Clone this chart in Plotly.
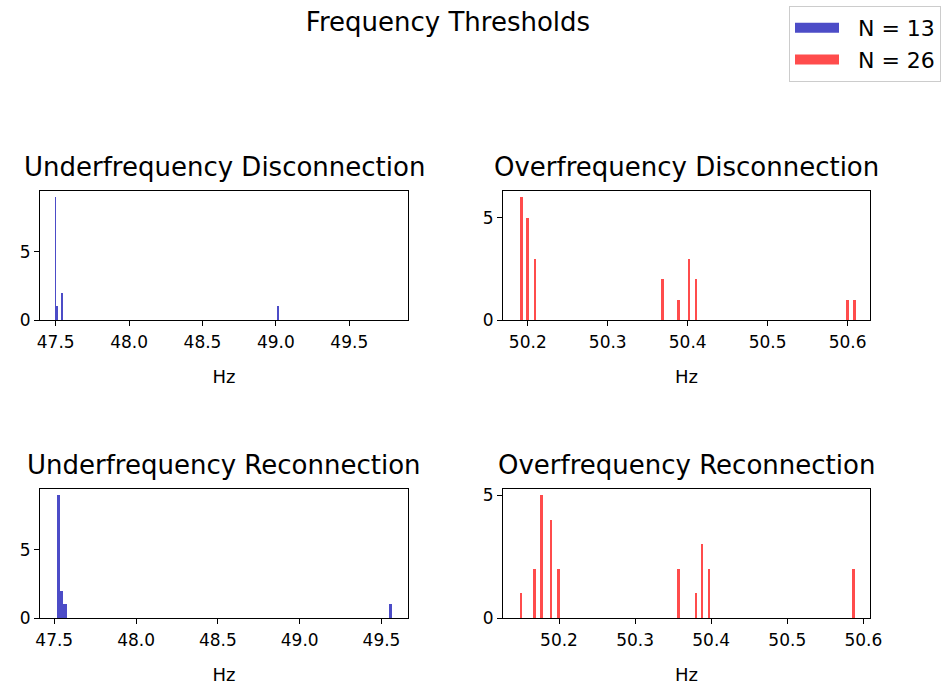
import plotly.graph_objects as go
from plotly.subplots import make_subplots

# ---- data (bin centres in Hz, counts) ----
ufd_hz = [47.500, 47.509, 47.543, 49.015]
ufd_n = [9, 1, 2, 1]

ofd_hz = [50.1916, 50.200, 50.209, 50.369, 50.389, 50.4016, 50.4104, 50.600, 50.609]
ofd_n = [6, 5, 3, 2, 1, 3, 2, 1, 1]

ufr_hz = [47.525, 47.546, 47.566, 49.555]
ufr_n = [9, 2, 1, 1]

ofr_hz = [50.150, 50.168, 50.177, 50.1895, 50.199, 50.357, 50.380, 50.388, 50.397, 50.587]
ofr_n = [1, 2, 5, 4, 2, 2, 1, 3, 2, 2]

titles = ["Underfrequency Disconnection", "Overfrequency Disconnection",
          "Underfrequency Reconnection", "Overfrequency Reconnection"]
legend_names = ["N = 13", "N = 26"]
main_title = "Frequency Thresholds"
x_label = "Hz"

BLUE = "rgba(0,0,175,0.7)"
RED = "rgba(255,0,0,0.7)"
FONT = "DejaVu Sans"
W, H = 941, 686

fig = make_subplots(rows=2, cols=2)

panels = [
    (ufd_hz, ufd_n, BLUE, 0.0085, 1, 1),
    (ofd_hz, ofd_n, RED, 0.0036, 1, 2),
    (ufr_hz, ufr_n, BLUE, 0.0205, 2, 1),
    (ofr_hz, ofr_n, RED, 0.0037, 2, 2),
]
for xs, ys, col, w, r, c in panels:
    fig.add_trace(go.Bar(x=xs, y=ys, width=[w] * len(xs), marker=dict(color=col, line=dict(width=0)),
                         showlegend=False), row=r, col=c)

# legend proxies (leading no-break spaces widen the gap between patch and label)
for name, col in zip(legend_names, [BLUE, RED]):
    fig.add_trace(go.Scatter(x=[None], y=[None], mode="lines", name="\u00a0\u00a0" + name,
                             line=dict(color=col, width=16)), row=1, col=1)

# domains in pixels
left_dom = [40 / W, 408 / W]
right_dom = [503 / W, 870 / W]
top_dom = [1 - 320 / H, 1 - 191 / H]
bot_dom = [1 - 618 / H, 1 - 489 / H]

xr = {1: [47.393, 49.90], 2: [50.169, 50.628], 3: [47.413, 49.662], 4: [50.1264, 50.6087]}
yr = {1: [0, 9.45], 2: [0, 6.3], 3: [0, 9.45], 4: [0, 5.25]}
xdt = {1: 0.5, 2: 0.1, 3: 0.5, 4: 0.1}
doms = {1: (left_dom, top_dom), 2: (right_dom, top_dom), 3: (left_dom, bot_dom), 4: (right_dom, bot_dom)}

axis_common = dict(showline=True, linecolor="black", linewidth=1, mirror=True, ticks="outside",
                   ticklen=5, tickwidth=1, tickcolor="black", showgrid=False, zeroline=False,
                   tickfont=dict(family=FONT, size=17, color="black"))

for i in range(1, 5):
    xd, yd = doms[i]
    sfx = "" if i == 1 else str(i)
    fig.layout["xaxis" + sfx].update(domain=xd, range=xr[i], dtick=xdt[i], tick0=47.5 if xdt[i] == 0.5 else 50.2,
                                      tickformat=".1f", ticklabelstandoff=2,
                                      title=dict(text=x_label, font=dict(family=FONT, size=18, color="black"),
                                                 standoff=18), **axis_common)
    fig.layout["yaxis" + sfx].update(domain=yd, range=yr[i], dtick=5, tick0=0, **axis_common)
    fig.add_annotation(text=titles[i - 1], xref="paper", yref="paper",
                       x=(xd[0] + xd[1]) / 2, y=yd[1] + 24 / H, xanchor="center", yanchor="middle",
                       showarrow=False, font=dict(family=FONT, size=26, color="black"))

fig.update_layout(
    width=W, height=H,
    margin=dict(l=0, r=0, t=0, b=0, autoexpand=False),
    paper_bgcolor="white", plot_bgcolor="white",
    bargap=0,
    title=dict(text=main_title, x=448 / W, y=1 - 22 / H, xanchor="center", yanchor="middle",
               font=dict(family=FONT, size=26, color="black")),
    legend=dict(x=1, y=1 - 6 / H, xanchor="right", yanchor="top", bordercolor="#cccccc",
                borderwidth=1, bgcolor="white", font=dict(family=FONT, size=22, color="black"),
                itemwidth=44),
    font=dict(family=FONT),
)

fig.write_html("out.html")
